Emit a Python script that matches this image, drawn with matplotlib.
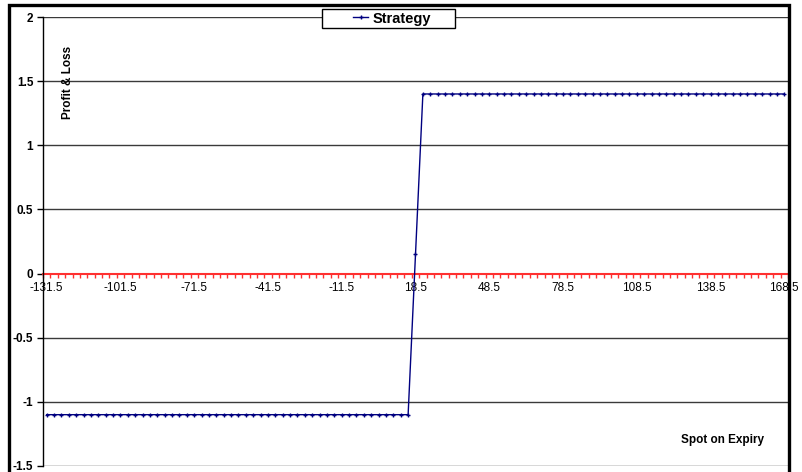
import matplotlib.pyplot as plt
from matplotlib.patches import Rectangle
import numpy as np

plt.rcParams['font.family'] = ['Liberation Sans', 'DejaVu Sans']

# spot prices on expiry and the strategy payoff at each one
spot = [-131.5 + 3 * i for i in range(101)]
pnl_low = -1.1
pnl_high = 1.4
pnl_mid = 0.15
strategy = [pnl_low] * 50 + [pnl_mid] + [pnl_high] * 50
tick_spots = [-131.5, -101.5, -71.5, -41.5, -11.5, 18.5, 48.5, 78.5, 108.5, 138.5, 168.5]
y_ticks = [-1.5, -1, -0.5, 0, 0.5, 1, 1.5, 2]

W, H = 803, 472
fig = plt.figure(figsize=(W / 100, H / 100), dpi=100)
ax = fig.add_axes([43 / W, 1 - 466 / H, (788 - 43) / W, (466 - 17) / H])

# horizontal gridlines
for yv in y_ticks:
    if yv != 0:
        ax.axhline(yv, color='#3a3a3a', lw=1, zorder=1)

line, = ax.plot(spot, strategy, color='#000080', lw=1, marker='+', ms=3.5, mew=1,
                label='Strategy', zorder=3)

ax.set_xlim(spot[0] - 1.5, spot[-1] + 1.5)
ax.set_ylim(-1.5, 2)

# category axis crosses at zero, drawn in red
ax.spines['bottom'].set_position(('data', 0))
ax.spines['bottom'].set_color('#ff3030')
ax.spines['bottom'].set_linewidth(1.5)
ax.spines['bottom'].set_zorder(2)
ax.spines['top'].set_visible(False)
ax.spines['right'].set_visible(False)
ax.spines['left'].set_linewidth(1)

ax.set_xticks(tick_spots)
ax.set_xticklabels([f'{v:g}' for v in tick_spots])
ax.set_xticks([s - 1.5 for s in spot] + [spot[-1] + 1.5], minor=True)
ax.tick_params(axis='x', which='major', length=0, pad=6, labelsize=8.5, labelcolor='black')
ax.tick_params(axis='x', which='minor', length=3, width=1, color='#ff3030', direction='out')

ax.set_yticks(y_ticks)
ax.set_yticklabels([f'{v:g}' for v in y_ticks])
ax.tick_params(axis='y', length=4, width=1, pad=3, labelsize=8.5)
for lab in ax.get_yticklabels():
    lab.set_fontweight('bold')

fig.text(68 / W, 1 - 82 / H, 'Profit & Loss', rotation=90, fontsize=8.5,
         fontweight='bold', ha='center', va='center')
fig.text(723 / W, 1 - 440 / H, 'Spot on Expiry', fontsize=8.5,
         fontweight='bold', ha='center', va='center')

# legend box over the top gridline
fig.add_artist(Rectangle((322 / W, 1 - 28 / H), 133 / W, 19 / H,
                         transform=fig.transFigure, facecolor='white',
                         edgecolor='black', lw=1, zorder=4))
leg = fig.legend(handles=[line], loc='center', bbox_to_anchor=(392 / W, 1 - 18.5 / H),
                 frameon=False, prop={'weight': 'bold', 'size': 10.5},
                 handlelength=1.0, handletextpad=0.3, borderpad=0)
leg.set_zorder(6)

# chart border, bottom edge falls below the image
fig.add_artist(Rectangle((9.5 / W, 1 - 480 / H), (789 - 9.5) / W, (480 - 5) / H,
                         transform=fig.transFigure, facecolor='none',
                         edgecolor='black', lw=2.4, zorder=7))

fig.savefig('out.png', dpi=100)
